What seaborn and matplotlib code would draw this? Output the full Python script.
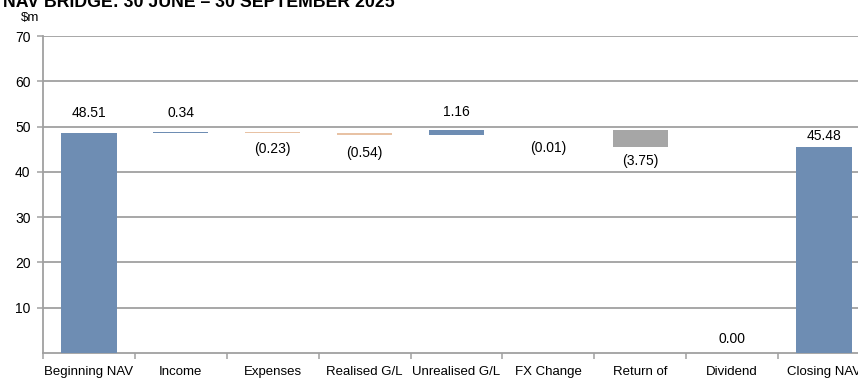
import numpy as np
import pandas as pd
import matplotlib
matplotlib.use("Agg")
import matplotlib.pyplot as plt
import seaborn as sns

# ---- data ----
categories = ["Beginning NAV", "Income", "Expenses", "Realised G/L", "Unrealised G/L",
              "FX Change", "Return of", "Dividend", "Closing NAV"]
changes = [48.51, 0.34, -0.23, -0.54, 1.16, -0.01, -3.75, 0.00, 45.48]
is_total = [True, False, False, False, False, False, False, False, True]
title_text = "NAV BRIDGE: 30 JUNE \u2013 30 SEPTEMBER 2025"
unit_text = "$m"
y_ticks = [10, 20, 30, 40, 50, 60, 70]

# ---- styling ----
c_total = "#6E8DB3"
c_up = "#6E8DB3"
c_down = "#E8C2A4"
c_return = "#A6A6A6"
grid_c = "#A0A0A0"
# label offsets from bar edge in pixels (positive = above)
label_offsets_px = [20, 19, -16, -17.5, 18, -18, -14, 14, 11]

sns.set_theme(style="white")
plt.rcParams["font.family"] = ["Liberation Sans", "DejaVu Sans"]

# waterfall geometry from data
bottoms = []
running = 0.0
for v, tot in zip(changes, is_total):
    if tot:
        bottoms.append(0.0)
        running = v
    else:
        bottoms.append(running)
        running += v
colors = []
for i, (v, tot) in enumerate(zip(changes, is_total)):
    if tot:
        colors.append(c_total)
    elif categories[i] == "Return of":
        colors.append(c_return)
    elif v >= 0:
        colors.append(c_up)
    else:
        colors.append(c_down)

df = pd.DataFrame({"cat": categories, "val": changes})

W, H = 858, 383
fig = plt.figure(figsize=(W / 100, H / 100), dpi=100)
ax = fig.add_axes([43 / W, (H - 353) / H, (870 - 43) / W, (353 - 36) / H])

sns.barplot(data=df, x="cat", y="val", order=categories, errorbar=None,
            width=0.6, color=c_total, saturation=1, bottom=bottoms,
            facecolor=colors, linewidth=0, ax=ax, zorder=3)

ax.set_xlim(-0.5, len(categories) - 0.5)
ax.set_ylim(0, 70)
ax.set_yticks(y_ticks)
ax.set_yticklabels([str(t) for t in y_ticks])
ax.set_xlabel("")
ax.set_ylabel("")

# grid
for t in y_ticks:
    ax.axhline(t, color=grid_c, lw=1.3, zorder=1)

for s in ["top", "right"]:
    ax.spines[s].set_visible(False)
for s in ["left", "bottom"]:
    ax.spines[s].set_color(grid_c)
    ax.spines[s].set_linewidth(1.3)

ax.tick_params(axis="y", which="major", left=True, length=4, width=1.1, color=grid_c,
               labelsize=10, pad=5, labelcolor="black")
ax.tick_params(axis="x", which="major", bottom=False, labelsize=9.5, pad=3.2, labelcolor="black")
ax.set_xticks(np.arange(-0.5, len(categories) + 0.5, 1.0), minor=True)
ax.tick_params(axis="x", which="minor", bottom=True, length=4, width=1.1, color=grid_c)

# data labels
for i, (v, b) in enumerate(zip(changes, bottoms)):
    top = b + max(v, 0)
    low = b + min(v, 0)
    txt = f"({abs(v):.2f})" if v < 0 else f"{v:.2f}"
    off = label_offsets_px[i] * 0.72
    anchor = top if off >= 0 else low
    if v == 0:
        anchor = 0.0
    ax.annotate(txt, (i, anchor), xytext=(0, off), textcoords="offset points",
                ha="center", va="center", fontsize=10, color="black", zorder=5)

fig.text(3 / W, 1 - 7 / H, title_text, ha="left", va="baseline",
         fontsize=12.8, fontweight="bold", color="black")
fig.text(30 / W, 1 - 18 / H, r"\$m", ha="center", va="center", fontsize=9.5, color="black")

fig.savefig("out.png", dpi=100)
